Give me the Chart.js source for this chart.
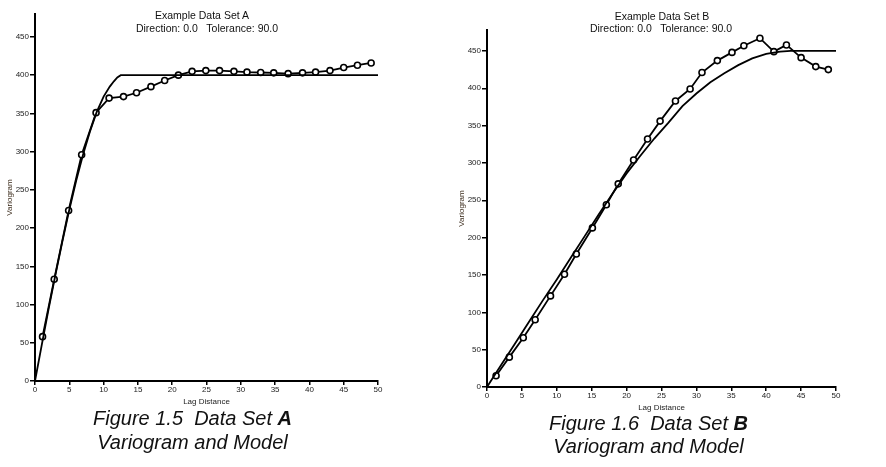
<!DOCTYPE html>
<html>
<head>
<meta charset="utf-8">
<script src="https://cdn.jsdelivr.net/npm/chart.js@4/dist/chart.umd.min.js"></script>
<style>
  body { margin: 0; background: #fff; width: 886px; height: 467px; position: relative; overflow: hidden; font-family: "Liberation Sans", Arial, sans-serif; }
  .box { position: absolute; }
  .title { position: absolute; font-size: 10.5px; line-height: 13px; color: #111; white-space: pre; text-align: center; }
  .caption { position: absolute; font-size: 20px; line-height: 24px; font-style: italic; color: #111; text-align: center; white-space: pre; }
</style>
</head>
<body>

<div class="box" style="left:0;top:0;width:400px;height:410px"><canvas id="chartA" width="400" height="410"></canvas></div>
<div class="box" style="left:440px;top:0;width:446px;height:416px"><canvas id="chartB" width="446" height="416"></canvas></div>

<div class="title" style="left:102px;top:9px;width:200px">Example Data Set A</div>
<div class="title" style="left:107px;top:22px;width:200px">Direction: 0.0   Tolerance: 90.0</div>
<div class="title" style="left:562px;top:10px;width:200px">Example Data Set B</div>
<div class="title" style="left:561px;top:22px;width:200px">Direction: 0.0   Tolerance: 90.0</div>

<div class="caption" style="left:0;top:406px;width:385px">Figure 1.5  Data Set <b>A</b><br>Variogram and Model</div>
<div class="caption" style="left:450px;top:412px;width:397px;line-height:23px">Figure 1.6  Data Set <b>B</b><br>Variogram and Model</div>

<script>
// axis ticks (both charts)
const xTicks = [0, 5, 10, 15, 20, 25, 30, 35, 40, 45, 50]
const yTicks = [0, 50, 100, 150, 200, 250, 300, 350, 400, 450]

// Data set A - experimental variogram
const lagA = [1.1, 2.8, 4.9, 6.8, 8.9, 10.8, 12.9, 14.8, 16.9, 18.9, 20.9, 22.9, 24.9, 26.9, 29.0, 30.9, 32.9, 34.8, 36.9, 39.0, 40.9, 43.0, 45.0, 47.0, 49.0]
const gammaA = [58, 133, 223, 296, 351, 370, 372, 377, 385, 393, 400, 405, 406, 406, 405, 404, 403.5, 403, 402, 403, 404, 406, 410, 413, 416]
// Data set A - model
const modelLagA = [0, 1, 2, 3, 4, 5, 6, 7, 8, 9, 10, 10.9, 11.5, 12.0, 12.5, 50]
const modelA = [0, 48, 95, 140, 183, 224, 262, 296, 326, 352, 372, 385, 392, 397, 400, 400]

// Data set B - experimental variogram
const lagB = [1.3, 3.2, 5.2, 6.9, 9.1, 11.1, 12.8, 15.1, 17.1, 18.8, 21.0, 23.0, 24.8, 27.0, 29.1, 30.8, 33.0, 35.1, 36.8, 39.1, 41.1, 42.9, 45.0, 47.1, 48.9]
const gammaB = [15, 40, 66, 90, 122, 151, 178, 213, 244, 272, 304, 332, 356, 383, 399, 421, 437, 448, 457, 467, 449, 458, 441, 429, 425]
// Data set B - model
const modelLagB = [0, 2, 4, 6, 8, 10, 12, 14, 16, 18, 20, 22, 24, 26, 28, 30, 32, 34, 36, 38, 40, 42, 43.5, 50]
const modelB = [0, 29, 58, 87, 116, 144, 173, 202, 231, 259, 286, 310, 333, 354, 376, 393, 408, 420, 431, 440, 446, 449, 450, 450]

const tickFont = { family: '"Liberation Sans", Arial, sans-serif', size: 8 }

function toPoints (xs, ys) {
  return xs.map((x, i) => ({ x, y: ys[i] }))
}

function makeChart (id, opts) {
  return new Chart(document.getElementById(id), {
    type: 'scatter',
    data: {
      datasets: [
        {
          data: toPoints(opts.modelLag, opts.model),
          showLine: true,
          borderColor: '#000',
          borderWidth: 1.8,
          pointRadius: 0,
          tension: 0
        },
        {
          data: toPoints(opts.lag, opts.gamma),
          showLine: true,
          borderColor: '#000',
          borderWidth: 1.8,
          pointRadius: 3,
          pointBorderWidth: 1.6,
          pointBackgroundColor: '#fff',
          pointBorderColor: '#000'
        }
      ]
    },
    options: {
      responsive: false,
      animation: false,
      layout: { padding: { left: 0, right: opts.padRight, top: opts.padTop, bottom: 0 } },
      plugins: { legend: { display: false }, tooltip: { enabled: false } },
      scales: {
        x: {
          type: 'linear',
          min: 0,
          max: 50,
          afterBuildTicks: s => { s.ticks = xTicks.map(v => ({ value: v })) },
          afterFit: s => { s.height = 29 },
          border: { color: '#000', width: 2 },
          grid: { drawOnChartArea: false, drawTicks: true, tickLength: 4, color: '#000', lineWidth: 1.5 },
          ticks: { font: tickFont, color: '#222', padding: 0, maxRotation: 0 },
          title: { display: true, text: 'Lag Distance', font: tickFont, color: '#222', padding: { bottom: 3 } }
        },
        y: {
          type: 'linear',
          min: 0,
          max: opts.yMax,
          afterBuildTicks: s => { s.ticks = yTicks.map(v => ({ value: v })) },
          afterFit: s => { s.width = opts.yWidth },
          border: { color: '#000', width: 2 },
          grid: { drawOnChartArea: false, drawTicks: true, tickLength: 5, color: '#000', lineWidth: 1.5 },
          ticks: { font: tickFont, color: '#222', padding: 1 },
          title: { display: true, text: 'Variogram', font: tickFont, color: '#3a2a1a', padding: { top: opts.yTitlePad } }
        }
      }
    }
  })
}

makeChart('chartA', {
  lag: lagA, gamma: gammaA, modelLag: modelLagA, model: modelA,
  yMax: 480, yWidth: 35, yTitlePad: 5, padRight: 22, padTop: 14
})

makeChart('chartB', {
  lag: lagB, gamma: gammaB, modelLag: modelLagB, model: modelB,
  yMax: 478, yWidth: 47, yTitlePad: 17, padRight: 50, padTop: 30
})
</script>
</body>
</html>
